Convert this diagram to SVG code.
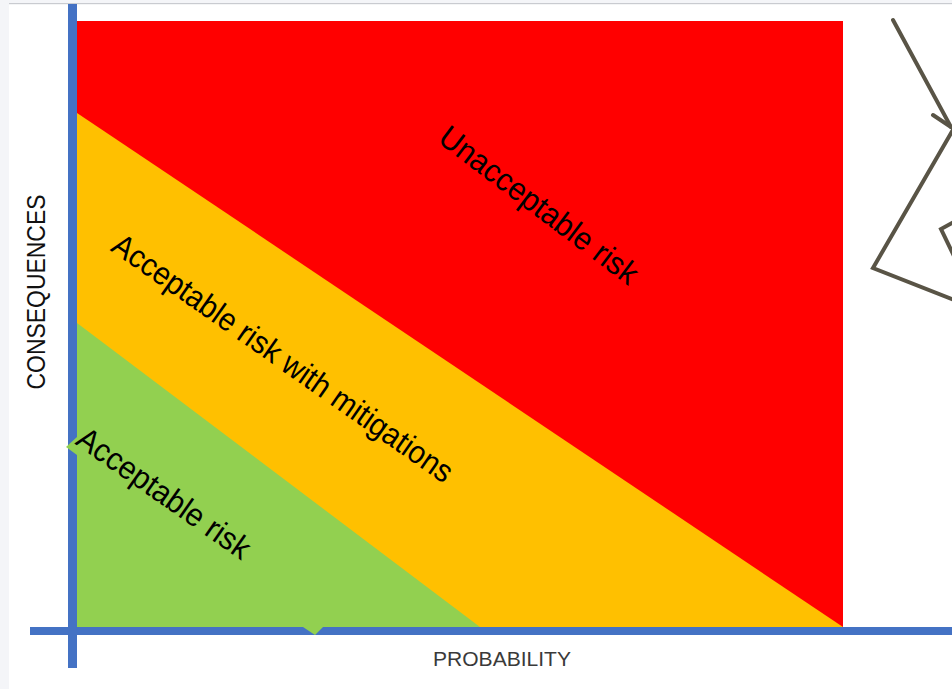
<svg xmlns="http://www.w3.org/2000/svg" width="952" height="689" viewBox="0 0 952 689">
<style>
.lbl{font-family:"Liberation Sans",Arial,sans-serif;font-size:32px;fill:#000;text-anchor:middle}
.ax{fill:#4472C4}
.arr{fill:none;stroke:#595446;stroke-width:4;stroke-linecap:round;stroke-linejoin:miter}
</style>
<rect width="952" height="689" fill="#f4f5f8"/>
<rect x="9" y="4" width="943" height="685" fill="#fff"/>
<rect x="9" y="3" width="943" height="1.2" fill="#c9cbd0"/>
<g id="zone-red"><rect x="77" y="21" width="766" height="606" fill="#ff0000"/></g>
<g id="zone-orange"><polygon points="77,113 843,627 77,627" fill="#ffc000"/></g>
<g id="zone-green"><polygon points="77,323 480,627 77,627" fill="#92d050"/></g>
<g id="axes">
<rect class="ax" x="68" y="4" width="9" height="664"/>
<rect class="ax" x="30" y="627" width="922" height="8"/>
</g>
<g id="notches" fill="#92d050">
<polygon points="77,437 66,447 77,455"/>
<polygon points="303,627 323,627 315,635"/>
</g>
<g id="label-unacceptable"><text class="lbl" transform="translate(539,205) rotate(37)" x="0" y="11" textLength="240" lengthAdjust="spacingAndGlyphs">Unacceptable risk</text></g>
<g id="label-mitigations"><text class="lbl" transform="translate(283,358) rotate(35)" x="0" y="11" textLength="408" lengthAdjust="spacingAndGlyphs">Acceptable risk with mitigations</text></g>
<g id="label-acceptable"><text class="lbl" transform="translate(164,493) rotate(35)" x="0" y="11" textLength="204" lengthAdjust="spacingAndGlyphs">Acceptable risk</text></g>
<g id="axis-labels">
<text transform="translate(45,292) rotate(-90)" x="0" y="0" style="font-family:'Liberation Sans',Arial,sans-serif;font-size:25px;fill:#111;text-anchor:middle" textLength="195" lengthAdjust="spacingAndGlyphs">CONSEQUENCES</text>
<text x="502" y="666" style="font-family:'Liberation Sans',Arial,sans-serif;font-size:21px;fill:#3a3a3a;text-anchor:middle" textLength="138" lengthAdjust="spacingAndGlyphs">PROBABILITY</text>
</g>
<g id="connectors">
<polyline class="arr" points="893,20 951,127"/>
<polyline class="arr" points="933,115 951,127"/>
<polyline class="arr" stroke-width="5" points="954,128 873,268 954,300"/>
<polyline class="arr" stroke-width="5" points="954,222 941,229 954,256"/>
</g>
</svg>
